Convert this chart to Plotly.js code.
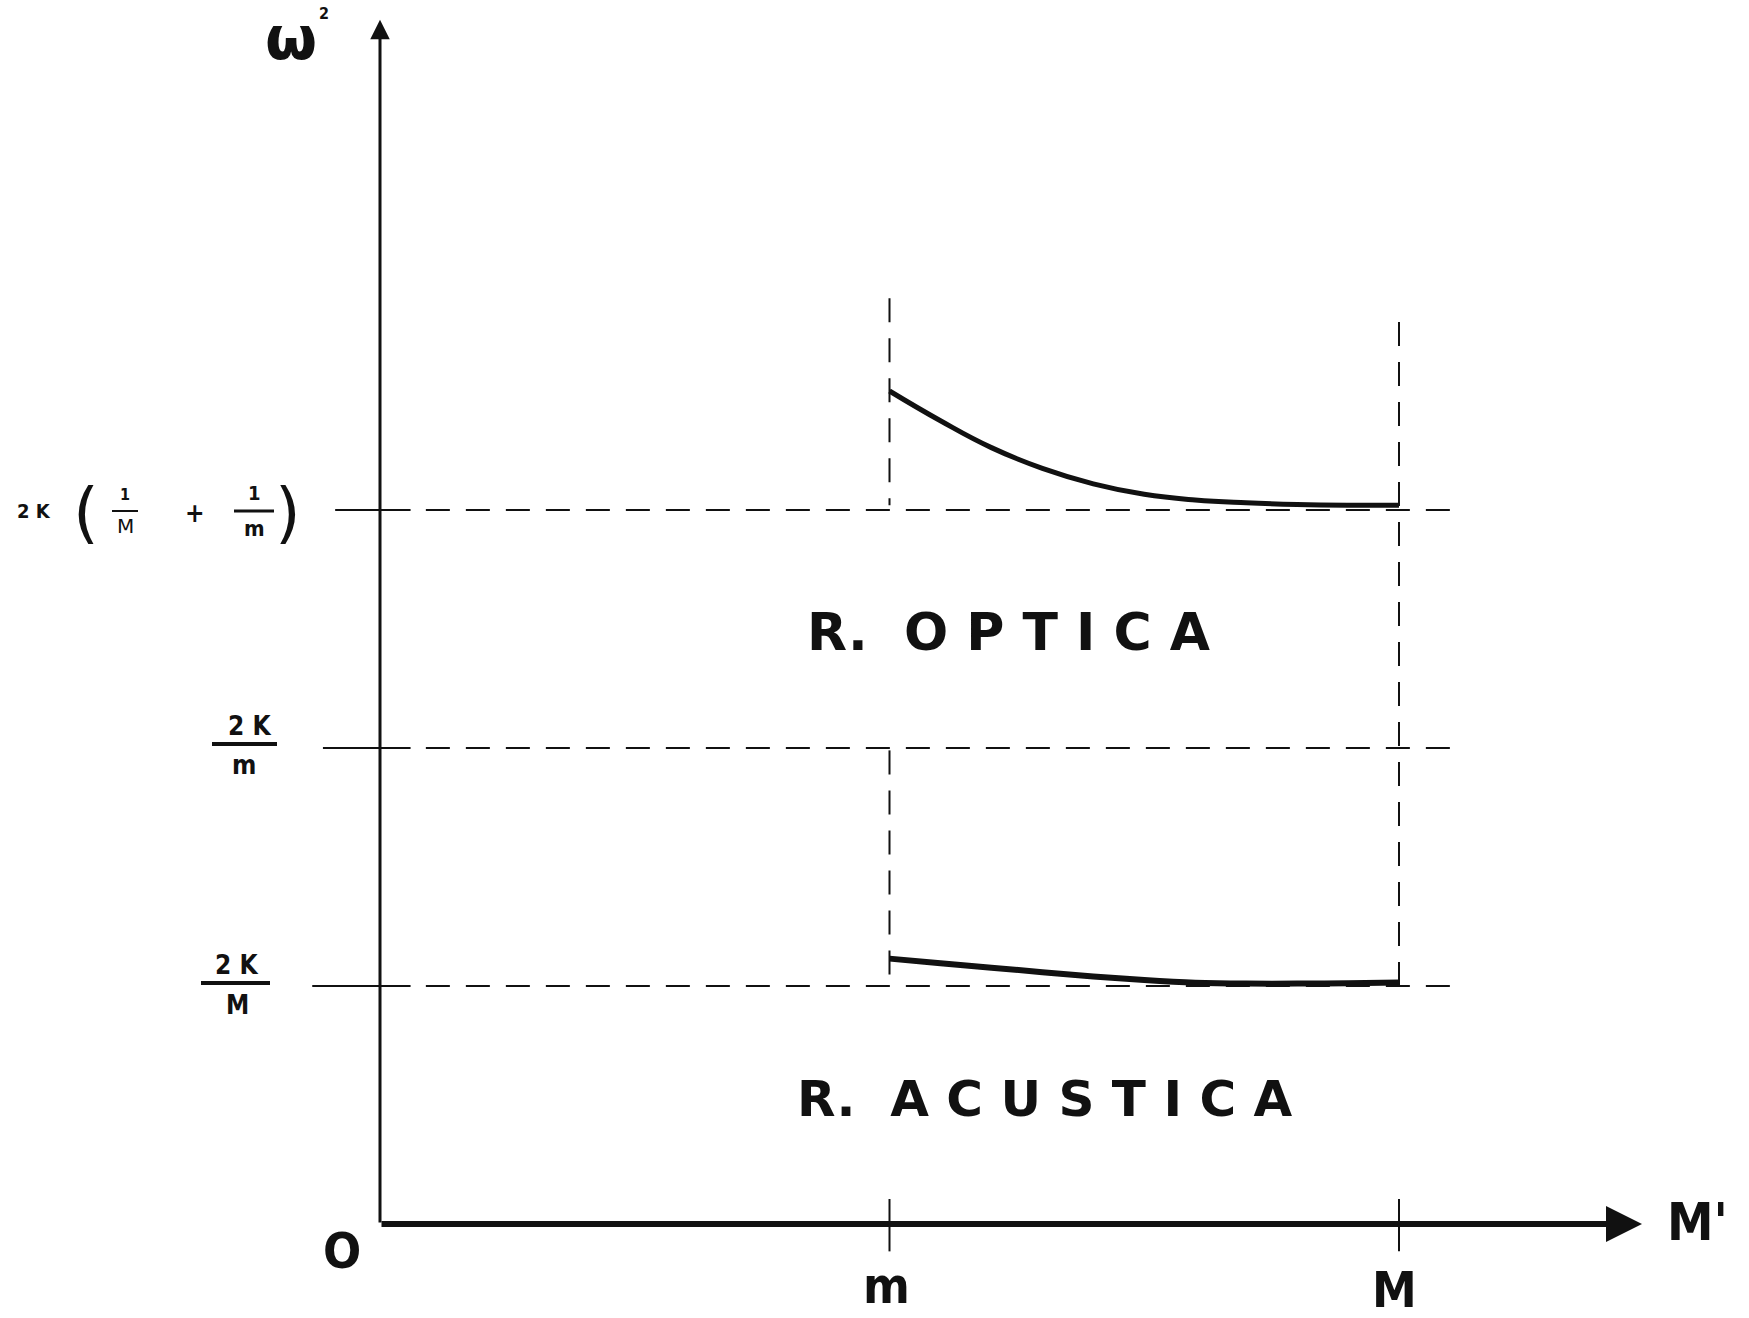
<!DOCTYPE html>
<html><head><meta charset="utf-8">
<script src="https://cdn.plot.ly/plotly-3.0.1.min.js"></script>
<style>body{margin:0;background:#fff}#chart{width:1749px;height:1318px}</style>
</head><body><div id="chart"></div>
<script>
// ---- data ----
// x positions: O = 0, m = 1, M = 2 ; y levels in units of 2K/M
const xTicks = [1, 2];
const xTickLabels = ['m', 'M'];
const levels = [1, 2, 3];                    // 2K/M, 2K/m, 2K(1/M+1/m)
const opticX = [1.0, 1.1, 1.2, 1.3, 1.4, 1.5, 1.6, 1.7, 1.8, 1.9, 2.0];
const opticY = [3.50, 3.375, 3.262, 3.175, 3.11, 3.066, 3.042, 3.03, 3.023, 3.02, 3.02];
const acustX = [1.0, 1.1, 1.2, 1.3, 1.4, 1.5, 1.6, 1.7, 1.8, 1.9, 2.0];
const acustY = [1.115, 1.096, 1.077, 1.058, 1.04, 1.025, 1.014, 1.01, 1.01, 1.012, 1.015];
const regionLabels = ['R.  O P T I C A', 'R.  A C U S T I C A'];

// pixel helpers for label placement
const W = 1749, H = 1318;
const px = p => p / W, py = p => 1 - p / H;

const dash = '24px,16px';
const shapes = [];
// horizontal dashed level lines
const levelStart = [-0.133, -0.112, -0.088];
levels.forEach((lv, i) => {
  shapes.push({type:'line', xref:'x', yref:'y', x0:levelStart[i], x1:0.06, y0:lv, y1:lv, line:{color:'#111', width:2}});
  shapes.push({type:'line', xref:'x', yref:'y', x0:0.09, x1:2.10, y0:lv, y1:lv, line:{color:'#111', width:2, dash:dash}});
});
// vertical dashed lines at m and M
shapes.push({type:'line', xref:'x', yref:'y', x0:1, x1:1, y0:3.89, y1:3.02, line:{color:'#111', width:2, dash:dash}});
shapes.push({type:'line', xref:'x', yref:'y', x0:1, x1:1, y0:1.99, y1:1.0, line:{color:'#111', width:2, dash:dash}});
shapes.push({type:'line', xref:'x', yref:'y', x0:2, x1:2, y0:3.79, y1:0.99, line:{color:'#111', width:2, dash:dash}});
// ticks on the x axis
xTicks.forEach(t => shapes.push({type:'line', xref:'x', yref:'y', x0:t, x1:t, y0:0.105, y1:-0.115, line:{color:'#111', width:2}}));
// fraction bars of the y labels
const bar = (a, b, y, w) => shapes.push({type:'line', xref:'paper', yref:'paper', x0:px(a), x1:px(b), y0:py(y), y1:py(y), line:{color:'#111', width:w}});
bar(112, 138, 511, 2);
bar(234, 274, 511, 3);
bar(212, 277, 744, 4);
bar(201, 270, 983, 4);

const lab = (text, x, y, size, extra) => Object.assign({text:text, xref:'paper', yref:'paper', x:px(x), y:py(y), showarrow:false,
  xanchor:'center', yanchor:'middle', font:{family:'DejaVu Sans Condensed, DejaVu Sans', size:size, color:'#111', weight:'bold'}}, extra || {});

const annotations = [
  // axes with arrows
  {x:0, y:5.06, ax:0, ay:0, xref:'x', yref:'y', axref:'x', ayref:'y', text:'', showarrow:true, arrowhead:2, arrowsize:1.3, arrowwidth:3, arrowcolor:'#111', standoff:0},
  {x:2.477, y:0, ax:0, ay:0, xref:'x', yref:'y', axref:'x', ayref:'y', text:'', showarrow:true, arrowhead:2, arrowsize:1.2, arrowwidth:6, arrowcolor:'#111', standoff:0},
  // axis labels
  lab('ω', 291, 38, 60, {font:{family:'DejaVu Sans', size:60, color:'#111', weight:'bold'}}),
  lab('2', 324, 14, 16),
  lab('O', 342, 1251, 50),
  lab(xTickLabels[0], 887, 1286, 50),
  lab(xTickLabels[1], 1394, 1290, 50),
  lab("M'", 1697, 1222, 52),
  // y labels
  lab('2 K', 34, 511, 20),
  lab('(', 86, 512, 66, {font:{family:'DejaVu Sans', size:66, color:'#111'}}),
  lab('1', 125, 494, 16),
  lab('M', 125, 526, 20, {font:{family:'DejaVu Sans', size:20, color:'#111'}}),
  lab('+', 195, 513, 26),
  lab('1', 254, 493, 20),
  lab('m', 254, 528, 22),
  lab(')', 288, 512, 66, {font:{family:'DejaVu Sans', size:66, color:'#111'}}),
  lab('2 K', 249, 726, 26),
  lab('m', 244, 765, 26),
  lab('2 K', 236, 965, 26),
  lab('M', 237, 1005, 26),
  // region labels
  lab(regionLabels[0], 1008, 632, 52, {font:{family:'DejaVu Sans', size:52, color:'#111', weight:'bold'}}),
  lab(regionLabels[1], 1044, 1099, 50, {font:{family:'DejaVu Sans', size:50, color:'#111', weight:'bold'}})
];

const traces = [
  {x:opticX, y:opticY, mode:'lines', line:{color:'#111', width:5, shape:'spline', smoothing:1.3}, hoverinfo:'skip'},
  {x:acustX, y:acustY, mode:'lines', line:{color:'#111', width:6, shape:'spline'}, hoverinfo:'skip'}
];

const layout = {
  width:W, height:H, margin:{l:0, r:0, t:0, b:0},
  paper_bgcolor:'#fff', plot_bgcolor:'#fff', showlegend:false,
  xaxis:{range:[-380/509.5, (W-380)/509.5], visible:false, fixedrange:true},
  yaxis:{range:[-(H-1224)/238, 1224/238], visible:false, fixedrange:true},
  shapes:shapes, annotations:annotations
};
Plotly.newPlot('chart', traces, layout, {staticPlot:true});
</script></body></html>
